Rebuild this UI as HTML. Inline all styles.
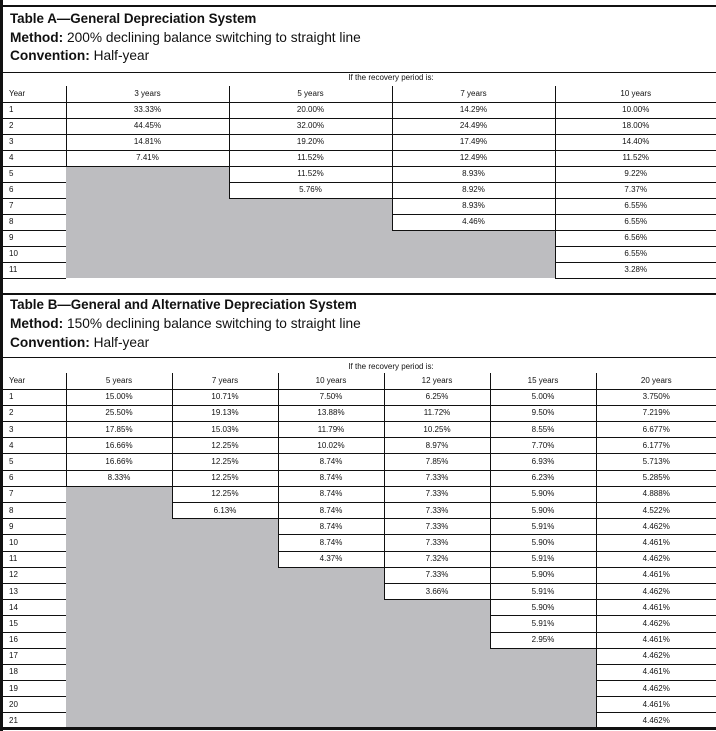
<!DOCTYPE html>
<html><head><meta charset="utf-8"><style>
*{margin:0;padding:0;box-sizing:border-box}
body{width:716px;height:731px;background:#fff;position:relative;overflow:hidden;font-family:"Liberation Sans",Arial,sans-serif;color:#111}
.abs{position:absolute}
.hl{position:absolute;left:0;width:716px;background:#111}
.t{position:absolute;left:10px;font-size:13.7px;white-space:nowrap;line-height:16px}
.t b{font-weight:bold}
.tt{font-size:13.4px}
table{position:absolute;left:0;border-collapse:collapse;table-layout:fixed;font-size:8px}
td{height:16px;text-align:center;border-bottom:1px solid #111;border-left:1px solid #111;padding:0;line-height:14px}
table.b td{height:16.2px}
td.y{text-align:left;padding-left:9px;border-left:none}
tr.h td{border-top:none}
td.g{background:#bdbdc0;border:none}
.rp{position:absolute;font-size:8px;width:650px;left:66px;text-align:center}
</style></head><body>
<div class="abs" style="left:0;top:0;width:3px;height:731px;background:#111"></div>
<div class="hl" style="top:5px;height:2px"></div>
<div class="t tt" style="top:11px"><b>Table A—General Depreciation System</b></div>
<div class="t" style="top:30px"><b>Method:</b> 200% declining balance switching to straight line</div>
<div class="t" style="top:48px"><b>Convention:</b> Half-year</div>
<div class="hl" style="top:72px;height:1px"></div>
<div class="rp" style="top:73px">If the recovery period is:</div>
<table style="top:86px;width:716px">
<colgroup><col style="width:66px"><col style="width:163px"><col style="width:163px"><col style="width:163px"><col style="width:161px"></colgroup>
<tr class="h"><td class="y">Year</td><td>3 years</td><td>5 years</td><td>7 years</td><td>10 years</td></tr>
<tr><td class="y">1</td><td>33.33%</td><td>20.00%</td><td>14.29%</td><td>10.00%</td></tr>
<tr><td class="y">2</td><td>44.45%</td><td>32.00%</td><td>24.49%</td><td>18.00%</td></tr>
<tr><td class="y">3</td><td>14.81%</td><td>19.20%</td><td>17.49%</td><td>14.40%</td></tr>
<tr><td class="y">4</td><td>7.41%</td><td>11.52%</td><td>12.49%</td><td>11.52%</td></tr>
<tr><td class="y">5</td><td class="g" rowspan="7"></td><td>11.52%</td><td>8.93%</td><td>9.22%</td></tr>
<tr><td class="y">6</td><td>5.76%</td><td>8.92%</td><td>7.37%</td></tr>
<tr><td class="y">7</td><td class="g" rowspan="5"></td><td>8.93%</td><td>6.55%</td></tr>
<tr><td class="y">8</td><td>4.46%</td><td>6.55%</td></tr>
<tr><td class="y">9</td><td class="g" rowspan="3"></td><td>6.56%</td></tr>
<tr><td class="y">10</td><td>6.55%</td></tr>
<tr><td class="y">11</td><td>3.28%</td></tr>
</table>
<div class="hl" style="top:293px;height:2px"></div>
<div class="t tt" style="top:297px"><b>Table B—General and Alternative Depreciation System</b></div>
<div class="t" style="top:316px"><b>Method:</b> 150% declining balance switching to straight line</div>
<div class="t" style="top:335px"><b>Convention:</b> Half-year</div>
<div class="hl" style="top:357px;height:1px"></div>
<div class="rp" style="top:362px">If the recovery period is:</div>
<table class="b" style="top:373px;width:716px">
<colgroup><col style="width:66px"><col style="width:106px"><col style="width:106px"><col style="width:106px"><col style="width:106px"><col style="width:106px"><col style="width:120px"></colgroup>
<tr class="h"><td class="y" style="height:15px">Year</td><td>5 years</td><td>7 years</td><td>10 years</td><td>12 years</td><td>15 years</td><td>20 years</td></tr>
<tr><td class="y">1</td><td>15.00%</td><td>10.71%</td><td>7.50%</td><td>6.25%</td><td>5.00%</td><td>3.750%</td></tr>
<tr><td class="y">2</td><td>25.50%</td><td>19.13%</td><td>13.88%</td><td>11.72%</td><td>9.50%</td><td>7.219%</td></tr>
<tr><td class="y">3</td><td>17.85%</td><td>15.03%</td><td>11.79%</td><td>10.25%</td><td>8.55%</td><td>6.677%</td></tr>
<tr><td class="y">4</td><td>16.66%</td><td>12.25%</td><td>10.02%</td><td>8.97%</td><td>7.70%</td><td>6.177%</td></tr>
<tr><td class="y">5</td><td>16.66%</td><td>12.25%</td><td>8.74%</td><td>7.85%</td><td>6.93%</td><td>5.713%</td></tr>
<tr><td class="y">6</td><td>8.33%</td><td>12.25%</td><td>8.74%</td><td>7.33%</td><td>6.23%</td><td>5.285%</td></tr>
<tr><td class="y">7</td><td class="g" rowspan="15"></td><td>12.25%</td><td>8.74%</td><td>7.33%</td><td>5.90%</td><td>4.888%</td></tr>
<tr><td class="y">8</td><td>6.13%</td><td>8.74%</td><td>7.33%</td><td>5.90%</td><td>4.522%</td></tr>
<tr><td class="y">9</td><td class="g" rowspan="13"></td><td>8.74%</td><td>7.33%</td><td>5.91%</td><td>4.462%</td></tr>
<tr><td class="y">10</td><td>8.74%</td><td>7.33%</td><td>5.90%</td><td>4.461%</td></tr>
<tr><td class="y">11</td><td>4.37%</td><td>7.32%</td><td>5.91%</td><td>4.462%</td></tr>
<tr><td class="y">12</td><td class="g" rowspan="10"></td><td>7.33%</td><td>5.90%</td><td>4.461%</td></tr>
<tr><td class="y">13</td><td>3.66%</td><td>5.91%</td><td>4.462%</td></tr>
<tr><td class="y">14</td><td class="g" rowspan="8"></td><td>5.90%</td><td>4.461%</td></tr>
<tr><td class="y">15</td><td>5.91%</td><td>4.462%</td></tr>
<tr><td class="y">16</td><td>2.95%</td><td>4.461%</td></tr>
<tr><td class="y">17</td><td class="g" rowspan="5"></td><td>4.462%</td></tr>
<tr><td class="y">18</td><td>4.461%</td></tr>
<tr><td class="y">19</td><td>4.462%</td></tr>
<tr><td class="y">20</td><td>4.461%</td></tr>
<tr><td class="y">21</td><td>4.462%</td></tr>
</table>
<div class="hl" style="top:727px;height:3px"></div>
</body></html>
